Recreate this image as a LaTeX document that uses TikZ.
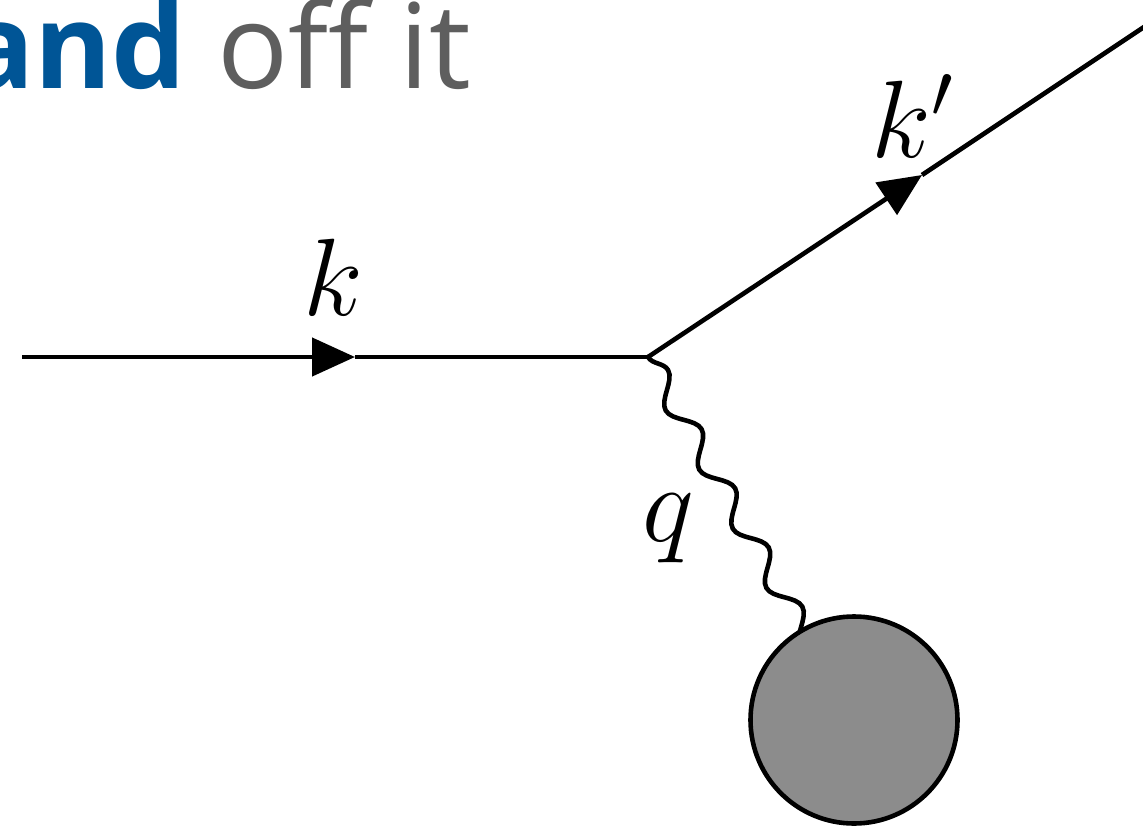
\RequirePackage{fix-cm}
\documentclass[tikz,border=0pt]{standalone}
\usepackage{fontspec}
\newfontfamily\headfont{Open Sans}
\usetikzlibrary{arrows.meta,decorations.pathmorphing}
\definecolor{headblue}{RGB}{0,85,150}
\definecolor{headgray}{RGB}{94,94,94}
\definecolor{blobgray}{RGB}{140,140,140}
\begin{document}
\begin{tikzpicture}[x=1pt,y=-1pt,
  fermion/.style={line width=4.6pt},
  fermarrow/.style={fermion,-{Triangle[length=43pt,width=38pt]}},
  photon/.style={line width=4.6pt, decorate, decoration={snake, amplitude=11pt, segment length=68pt}},
  lbl/.style={inner sep=0pt, font=\fontsize{110}{130}\selectfont},
  blobstyle/.style={circle, draw, line width=4.6pt, fill=blobgray, minimum size=207pt, inner sep=0pt},
]
\useasboundingbox (0,0) rectangle (1143,827);
\clip (0,0) rectangle (1143,827);
% header text
\node[anchor=base east, inner sep=0pt, font=\headfont\fontsize{118}{140}\selectfont] (head) at (471,88)
  {\textcolor{headblue}{\bfseries and} \textcolor{headgray}{off it}};
% points
\coordinate (in) at (22,357);
\coordinate (v) at (648,357);
\coordinate (ka) at (355,357);
\coordinate (kpa) at (922,175);
\coordinate (out) at (1168,11);
\coordinate (bc) at (854,720);
% lines
\draw[fermarrow] (in) -- (ka);
\draw[fermion] (ka) -- (v);
\draw[fermarrow] (v) -- (kpa);
\draw[fermion] (kpa) -- (out);
\draw[photon] (v) -- (bc);
% blob (drawn over the end of the photon line)
\node[blobstyle] (blob) at (bc) {};
% labels
\node[lbl, anchor=base] (klbl) at (333,315) {$k$};
\node[lbl, anchor=base] (kplbl) at (912,157) {$k'$};
\node[lbl, anchor=base] (qlbl) at (668,541) {$q$};
\end{tikzpicture}
\end{document}
